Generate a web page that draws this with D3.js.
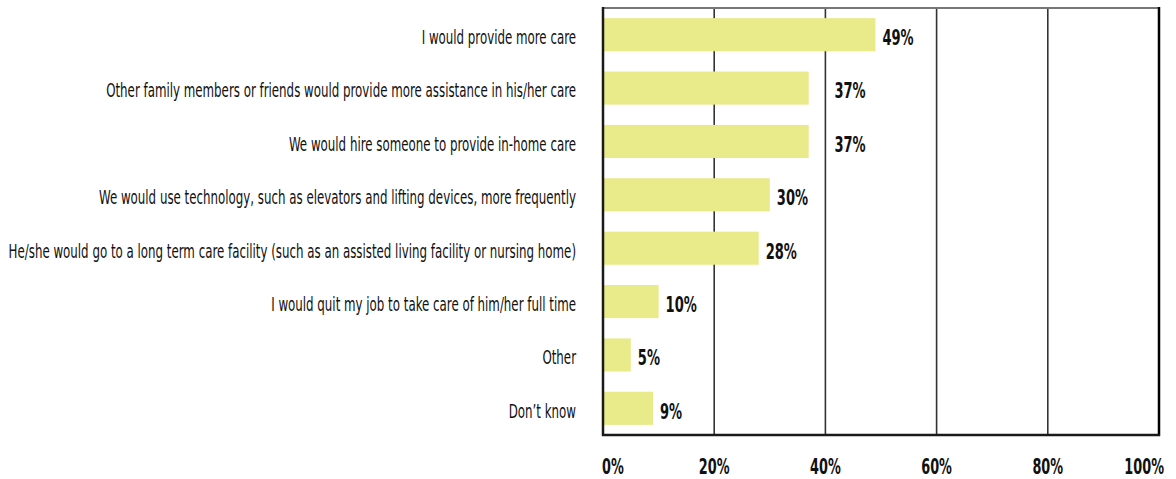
<!DOCTYPE html>
<html>
<head>
<meta charset="utf-8">
<script src="https://cdn.jsdelivr.net/npm/d3@7"></script>
<style>
  body { margin: 0; background: #fff; }
  text { font-family: "DejaVu Sans Condensed", "Liberation Sans Narrow", sans-serif; fill: #111; }
</style>
</head>
<body>
<svg id="chart" width="1176" height="479"></svg>
<script>
let categories = [
    "I would provide more care",
    "Other family members or friends would provide more assistance in his/her care",
    "We would hire someone to provide in-home care",
    "We would use technology, such as elevators and lifting devices, more frequently",
    "He/she would go to a long term care facility (such as an assisted living facility or nursing home)",
    "I would quit my job to take care of him/her full time",
    "Other",
    "Don\u2019t know"
];
let values = [49, 37, 37, 30, 28, 10, 5, 9];
let ticks = [0, 20, 40, 60, 80, 100];

let svg = d3.select("#chart");

let plotLeft = 603, plotRight = 1159, plotTop = 8, plotBottom = 435;
let boldScale = 0.66;   // squeeze bold labels to look condensed

let x = d3.scaleLinear().domain([0, 100]).range([plotLeft, plotRight]);
let y = d3.scaleBand().domain(categories).range([plotTop, plotBottom]).paddingInner(0.38).paddingOuter(0.19);

// gridlines
svg.selectAll('line.grid')
    .data(ticks.slice(1, -1))
    .enter()
    .append('line')
    .attr('class', 'grid')
    .attr('x1', d => x(d)).attr('x2', d => x(d))
    .attr('y1', plotTop).attr('y2', plotBottom)
    .attr('stroke', '#333')
    .attr('stroke-width', 1.6)

// frame
svg.append('line').attr('x1', plotLeft).attr('x2', plotRight).attr('y1', plotTop).attr('y2', plotTop)
    .attr('stroke', '#777').attr('stroke-width', 2)
svg.append('line').attr('x1', plotRight).attr('x2', plotRight).attr('y1', plotTop - 1).attr('y2', plotBottom + 1)
    .attr('stroke', '#000').attr('stroke-width', 2.5)

// bars
svg.selectAll('rect.bar')
    .data(values)
    .enter()
    .append('rect')
    .attr('class', 'bar')
    .attr('x', x(0))
    .attr('y', (d, i) => y(categories[i]))
    .attr('width', d => x(d) - x(0))
    .attr('height', y.bandwidth())
    .attr('fill', '#e9ea8a')

svg.append('line').attr('x1', plotLeft).attr('x2', plotLeft).attr('y1', plotTop - 1).attr('y2', plotBottom + 1)
    .attr('stroke', '#1a1a1a').attr('stroke-width', 2.5)
svg.append('line').attr('x1', plotLeft - 1).attr('x2', plotRight + 1).attr('y1', plotBottom).attr('y2', plotBottom)
    .attr('stroke', '#1a1a1a').attr('stroke-width', 2.5)

// value labels - pushed past a gridline if they would sit on it
let valueLabels = svg.selectAll('text.value')
    .data(values)
    .enter()
    .append('text')
    .attr('class', 'value')
    .attr('dy', '0.36em')
    .style('font-size', '22px')
    .style('font-weight', 'bold')
    .text(d => d + '%')

valueLabels.attr('transform', function(d, i) {
    let w = this.getComputedTextLength() * boldScale;
    let start = x(d) + 7;
    ticks.forEach(t => {
        if (x(t) > start - 2 && x(t) < start + w + 2) start = x(t) + 9;
    })
    let cy = y(categories[i]) + y.bandwidth() / 2 + 2.5;
    return `translate(${start},${cy}) scale(${boldScale},1)`;
})

// category labels
let catLabels = svg.selectAll('text.cat')
    .data(categories)
    .enter()
    .append('text')
    .attr('class', 'cat')
    .attr('dy', '0.36em')
    .attr('text-anchor', 'end')
    .style('font-size', '19px')
    .text(d => d)

let longest = d3.max(catLabels.nodes(), n => n.getComputedTextLength());
let catScale = 568 / longest;
catLabels.attr('transform', d => `translate(${plotLeft - 27},${y(d) + y.bandwidth() / 2 + 2.5}) scale(${catScale},1)`)

// x tick labels
svg.selectAll('text.tick')
    .data(ticks)
    .enter()
    .append('text')
    .attr('class', 'tick')
    .attr('transform', (d, i) => {
        let tx = i === 0 ? x(d) - 1 : (i === ticks.length - 1 ? x(d) + 5 : x(d));
        return `translate(${tx},466) scale(${boldScale + 0.02},1)`;
    })
    .attr('dy', '0.36em')
    .attr('text-anchor', (d, i) => i === 0 ? 'start' : (i === ticks.length - 1 ? 'end' : 'middle'))
    .style('font-size', '21px')
    .style('font-weight', 'bold')
    .text(d => d + '%')
</script>
</body>
</html>
